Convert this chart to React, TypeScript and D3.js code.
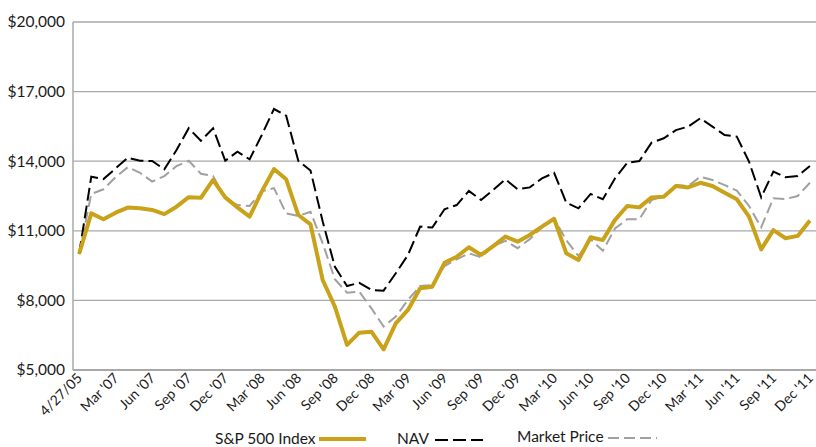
import { scaleBand, scaleLinear, line } from "d3";

const width = 816;
const height = 447;
const margin = { left: 73, right: 0, top: 22, bottom: 77 };

const categories = [
  "4/27/05",
  "Jan '07", "Feb '07", "Mar '07", "Apr '07", "May '07", "Jun '07", "Jul '07", "Aug '07", "Sep '07", "Oct '07", "Nov '07", "Dec '07",
  "Jan '08", "Feb '08", "Mar '08", "Apr '08", "May '08", "Jun '08", "Jul '08", "Aug '08", "Sep '08", "Oct '08", "Nov '08", "Dec '08",
  "Jan '09", "Feb '09", "Mar '09", "Apr '09", "May '09", "Jun '09", "Jul '09", "Aug '09", "Sep '09", "Oct '09", "Nov '09", "Dec '09",
  "Jan '10", "Feb '10", "Mar '10", "Apr '10", "May '10", "Jun '10", "Jul '10", "Aug '10", "Sep '10", "Oct '10", "Nov '10", "Dec '10",
  "Jan '11", "Feb '11", "Mar '11", "Apr '11", "May '11", "Jun '11", "Jul '11", "Aug '11", "Sep '11", "Oct '11", "Nov '11", "Dec '11",
];

const sp500 = [
  10000, 11750, 11500, 11780, 12000, 11970, 11900, 11720, 12040, 12450, 12420, 13190, 12440,
  12010, 11610, 12700, 13660, 13220, 11680, 11280, 8880, 7730, 6080, 6610, 6650,
  5890, 7010, 7590, 8520, 8590, 9620, 9880, 10290, 9960, 10340, 10750, 10530,
  10820, 11180, 11520, 10030, 9740, 10720, 10600, 11470, 12070, 12010, 12440, 12470,
  12930, 12870, 13070, 12930, 12640, 12360, 11610, 10200, 11030, 10680, 10780, 11440,
];

const nav = [
  10000, 13330, 13230, 13690, 14150, 14020, 14010, 13650, 14480, 15420, 14880, 15420, 14020,
  14410, 14080, 15130, 16250, 15960, 14010, 13600, 11400, 9450, 8620, 8760, 8450,
  8420, 9170, 9960, 11180, 11140, 11930, 12110, 12720, 12330, 12760, 13220, 12790,
  12870, 13260, 13500, 12210, 11970, 12590, 12360, 13260, 13930, 14010, 14800, 14990,
  15340, 15490, 15850, 15490, 15130, 15060, 13980, 12440, 13550, 13310, 13360, 13790,
];

const marketPrice = [
  10000, 12590, 12790, 13310, 13740, 13500, 13120, 13360, 13790, 14020, 13460, 13360, 12400,
  12110, 12070, 12700, 12840, 11750, 11640, 11820, 10460, 8910, 8330, 8380, 7660,
  6870, 7300, 8020, 8620, 8660, 9480, 9770, 10030, 9860, 10340, 10570, 10250,
  10640, 11150, 11520, 10600, 9910, 10630, 10140, 11100, 11500, 11500, 12330, 12500,
  12970, 12930, 13330, 13190, 12970, 12730, 12070, 11150, 12400, 12370, 12500, 13070,
];

const yTicks = [5000, 8000, 11000, 14000, 17000, 20000];

const GOLD = "#c9a21a";
const GRID = "#a8a8a8";
const FONT = "Lato, 'Open Sans', sans-serif";

export default function App() {
  const x = scaleBand()
    .domain(categories)
    .range([margin.left, width - margin.right])
    .padding(0);
  const y = scaleLinear()
    .domain([5000, 20000])
    .range([height - margin.bottom, margin.top]);

  const cx = (c: string) => (x(c) as number) + x.bandwidth() / 2;
  const makePath = (values: number[]) =>
    line<number>()
      .x((_, i) => cx(categories[i]))
      .y((d) => y(d))(values) as string;

  const bottom = height - margin.bottom;

  return (
    <svg
      width={width}
      height={height}
      style={{ position: "absolute", left: 0, top: 0, background: "#fff" }}
      fontFamily={FONT}
    >
      {yTicks.slice(1).map((t) => (
        <line key={t} x1={margin.left} x2={width} y1={y(t)} y2={y(t)} stroke={GRID} strokeWidth={1.3} />
      ))}
      <line x1={margin.left} x2={margin.left} y1={margin.top} y2={bottom} stroke={GRID} strokeWidth={1.5} />
      <line x1={margin.left} x2={width} y1={bottom} y2={bottom} stroke={GRID} strokeWidth={2} />

      {yTicks.map((t) => (
        <text key={t} x={65} y={y(t)} dy="0.35em" textAnchor="end" fontSize={15.5} fill="#1a1a1a">
          {"$" + t.toLocaleString("en-US")}
        </text>
      ))}

      {categories.map((c, i) =>
        i % 3 === 0 ? (
          <text
            key={c}
            transform={`translate(${cx(c) + 4},${bottom + 9}) rotate(-45)`}
            textAnchor="end"
            fontSize={14}
            fill="#1a1a1a"
          >
            {c}
          </text>
        ) : null
      )}

      <path d={makePath(marketPrice)} fill="none" stroke="#a0a0a0" strokeWidth={2} strokeDasharray="11,5" />
      <path d={makePath(nav)} fill="none" stroke="#000" strokeWidth={2} strokeDasharray="13,5" />
      <path d={makePath(sp500)} fill="none" stroke={GOLD} strokeWidth={4} strokeLinejoin="round" />

      <g fontSize={15.5} fill="#1a1a1a">
        <text x={215} y={444}>S&amp;P 500 Index</text>
        <line x1={319} x2={366} y1={439} y2={439} stroke={GOLD} strokeWidth={4} />
        <text x={397} y={444}>NAV</text>
        <line x1={435} x2={483} y1={440} y2={440} stroke="#000" strokeWidth={2} strokeDasharray="13,5" />
        <text x={517} y={442}>Market Price</text>
        <line x1={608} x2={657} y1={438} y2={438} stroke="#a0a0a0" strokeWidth={2} strokeDasharray="11,5" />
      </g>
    </svg>
  );
}
